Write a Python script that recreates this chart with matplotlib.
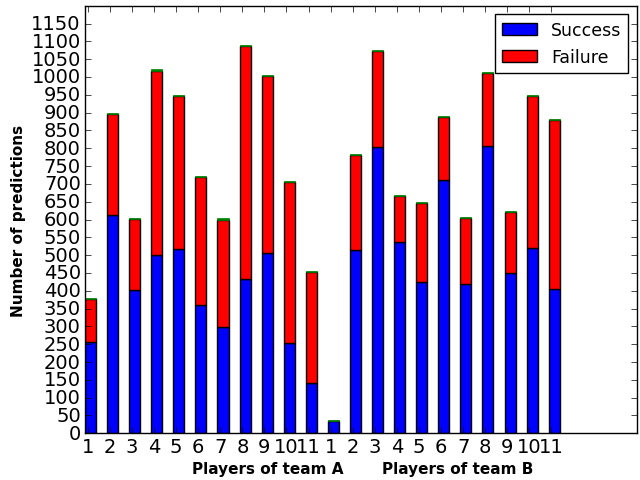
import numpy as np
import matplotlib
matplotlib.use("Agg")
import matplotlib.pyplot as plt

plt.style.use("classic")

# players 1..11 of team A followed by players 1..11 of team B
players = [str(i) for i in range(1, 12)] * 2
success = [256, 613, 402, 500, 518, 360, 299, 434, 507, 254, 141,
           35, 514, 804, 537, 424, 710, 418, 807, 449, 521, 405]
failure = [121, 282, 200, 518, 429, 360, 301, 652, 495, 451, 311,
           0, 266, 268, 128, 221, 178, 185, 203, 171, 425, 474]
other = [3] * 22

ind = np.arange(len(players))
width = 0.5

fig = plt.figure(figsize=(6.4, 4.81))
ax = fig.add_axes([85 / 640, 1 - 434.3 / 481, 552 / 640, 427.6 / 481])

bottom2 = np.array(success) + np.array(failure)
ax.bar(ind, success, width, align="edge", color="blue", edgecolor="black", label="Success")
ax.bar(ind, failure, width, bottom=success, align="edge", color="red", edgecolor="black",
       label="Failure")
ax.bar(ind, other, width, bottom=bottom2, align="edge", color="green", edgecolor="green",
       linewidth=0.5)

ax.set_xlim(0, 25)
ax.set_ylim(0, 1200)
ax.set_yticks(np.arange(0, 1151, 50))
ax.set_xticks(ind + width / 4)
ax.set_xticklabels(players)
ax.tick_params(labelsize=14, pad=3)
ax.set_ylabel("Number of predictions", fontsize=11, fontweight="bold", labelpad=4)
ax.text(0.3306, -0.083, "Players of team A", transform=ax.transAxes, ha="center",
        va="center", fontsize=11, fontweight="bold")
ax.text(0.6757, -0.083, "Players of team B", transform=ax.transAxes, ha="center",
        va="center", fontsize=11, fontweight="bold")
ax.legend(loc="upper right", fontsize=12.5)

fig.savefig("out.png", dpi=100)
